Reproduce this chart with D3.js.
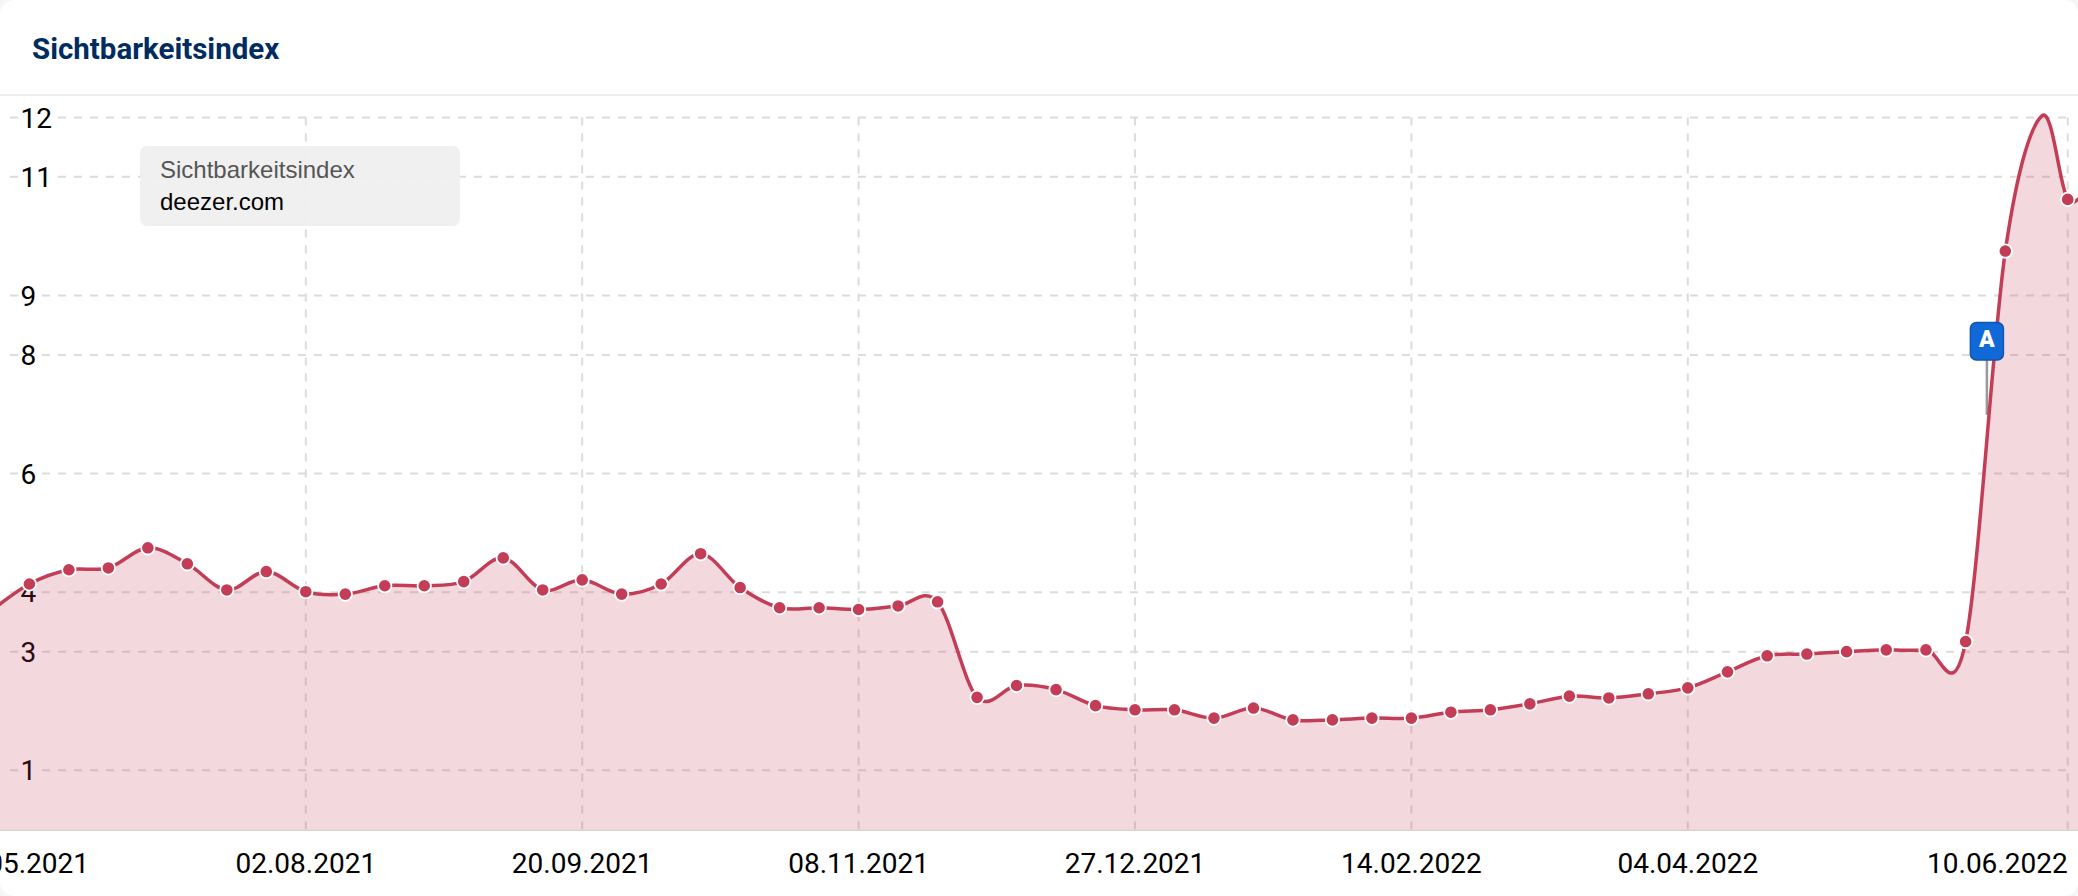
<!DOCTYPE html>
<html><head><meta charset="utf-8">
<script src="https://cdnjs.cloudflare.com/ajax/libs/d3/7.8.5/d3.min.js"></script>
<style>html,body{margin:0;padding:0;background:#f6f6f6;overflow:hidden}svg{display:block}</style>
</head><body><svg id="c" width="2078" height="896"></svg>
<script>
const dates = ["07.06.2021","14.06.2021","21.06.2021","28.06.2021","05.07.2021","12.07.2021","19.07.2021","26.07.2021","02.08.2021","09.08.2021","16.08.2021","23.08.2021","30.08.2021","06.09.2021","13.09.2021","20.09.2021","27.09.2021","04.10.2021","11.10.2021","18.10.2021","25.10.2021","01.11.2021","08.11.2021","15.11.2021","22.11.2021","29.11.2021","06.12.2021","13.12.2021","20.12.2021","27.12.2021","03.01.2022","10.01.2022","17.01.2022","24.01.2022","31.01.2022","07.02.2022","14.02.2022","21.02.2022","28.02.2022","07.03.2022","14.03.2022","21.03.2022","28.03.2022","04.04.2022","11.04.2022","18.04.2022","25.04.2022","02.05.2022","09.05.2022","16.05.2022","23.05.2022","30.05.2022","05.06.2022 12","10.06.2022","14.06.2022"];
const values = [3.67,4.14,4.38,4.41,4.75,4.48,4.04,4.35,4.01,3.97,4.11,4.11,4.18,4.58,4.04,4.21,3.97,4.14,4.65,4.08,3.74,3.74,3.71,3.77,3.84,2.23,2.43,2.36,2.09,2.02,2.02,1.88,2.05,1.85,1.85,1.88,1.88,1.98,2.02,2.12,2.25,2.22,2.29,2.39,2.66,2.93,2.96,3.00,3.03,3.03,3.17,9.75,12.03,10.62,10.9];
const undottedDates = ["05.06.2022 12"];
const yTicks = [1,3,4,6,8,9,11,12];
const xTicks = ["02.08.2021","20.09.2021","08.11.2021","27.12.2021","14.02.2022","04.04.2022","10.06.2022"];
const firstTickLabel = "31.05.2021";
const titleText = "Sichtbarkeitsindex";
const legendLines = ["Sichtbarkeitsindex","deezer.com"];
const eventLabel = "A";
const eventDate = "26.05.2022 18";
const eventValue = 8.0;

const parseDay = d3.timeParse("%d.%m.%Y"), parseHour = d3.timeParse("%d.%m.%Y %H");
const parse = s => parseDay(s) || parseHour(s);
const W = 2078, H = 896;
const x = d3.scaleTime().domain([parse("02.08.2021"), parse("04.04.2022"), parse("10.06.2022")]).range([305.8, 1687.8, 2067.7]);
const y = d3.scaleLinear().domain([0, 12]).range([829.7, 117.5]);
const pts = dates.map((d,i)=>({d:parse(d),s:d,v:values[i]}));
const svg = d3.select("#c");
const LINE = "#c33d57";

svg.append("clipPath").attr("id","card").append("rect").attr("width",W).attr("height",H).attr("rx",14);
const g = svg.append("g").attr("clip-path","url(#card)");
g.append("rect").attr("width",W).attr("height",H).attr("fill","#fff");

g.append("text").attr("x",32).attr("y",59).attr("font-family","Roboto").attr("font-weight",700).attr("font-size",29.5).attr("fill","#002c5f").text(titleText);
g.append("line").attr("x1",0).attr("x2",W).attr("y1",95).attr("y2",95).attr("stroke","#eeeeee").attr("stroke-width",2);

// grid
const grid = g.append("g").attr("fill","none").attr("stroke","#dcdcdc").attr("stroke-width",2).attr("stroke-dasharray","8 8");
grid.selectAll(".h").data(yTicks).join("line").attr("x1",10).attr("x2",x(parse("10.06.2022"))).attr("y1",d=>y(d)).attr("y2",d=>y(d));
grid.selectAll(".v").data(xTicks).join("line").attr("x1",d=>x(parse(d))).attr("x2",d=>x(parse(d))).attr("y1",y(12)).attr("y2",y(0));

// y labels
g.append("g").selectAll("text").data(yTicks).join("text")
 .attr("x",20.5).attr("y",d=>y(d)+10)
 .attr("font-family","Roboto").attr("font-size",28).attr("fill","#000")
 .attr("stroke","#fff").attr("stroke-width",8).attr("paint-order","stroke")
 .text(d=>d);

// legend
g.append("rect").attr("x",140).attr("y",146).attr("width",320).attr("height",80).attr("rx",7).attr("fill","#efefef").attr("fill-opacity",0.92);
g.append("g").selectAll("text").data(legendLines).join("text")
 .attr("x",160).attr("y",(d,i)=>i?210:178).attr("font-family","'Liberation Sans'").attr("font-size",24)
 .attr("fill",(d,i)=>i?"#000":"#555").text(d=>d);

// area + line
const curve = d3.curveCardinal.tension(0);
g.append("path").datum(pts).attr("fill",LINE).attr("fill-opacity",0.2)
 .attr("d",d3.area().x(d=>x(d.d)).y0(y(0)).y1(d=>y(d.v)).curve(curve));
g.append("line").attr("x1",0).attr("x2",W).attr("y1",y(0)+0.5).attr("y2",y(0)+0.5).attr("stroke","#d8d0d2").attr("stroke-width",1.5);

// event stem
const ex = x(parse(eventDate));
g.append("line").attr("x1",ex).attr("x2",ex).attr("y1",y(eventValue)+5).attr("y2",y(eventValue)+60).attr("stroke","#999").attr("stroke-width",2.5);

g.append("path").datum(pts).attr("fill","none").attr("stroke",LINE).attr("stroke-width",3.5)
 .attr("d",d3.line().x(d=>x(d.d)).y(d=>y(d.v)).curve(curve));
g.append("g").selectAll("circle").data(pts.filter(p=>!undottedDates.includes(p.s))).join("circle")
 .attr("cx",d=>x(d.d)).attr("cy",d=>y(d.v)).attr("r",6.7).attr("fill",LINE).attr("stroke","#fff").attr("stroke-width",1.8);

// event flag
const flag = g.append("g").attr("transform",`translate(${ex},${y(eventValue)+5})`);
flag.append("rect").attr("x",-16.5).attr("y",-37.5).attr("width",33).attr("height",37.5).attr("rx",6).attr("fill","#1169d8").attr("stroke","#0f55b0").attr("stroke-width",1.5);
flag.append("text").attr("text-anchor","middle").attr("y",-12.7).attr("font-family","Roboto").attr("font-weight",900).attr("font-size",23).attr("fill","#fff").text(eventLabel);

// x labels
const xl = g.append("g").attr("font-family","Roboto").attr("font-size",28).attr("fill","#000");
xl.append("text").attr("x",89).attr("y",873).attr("text-anchor","end").text(firstTickLabel);
xl.selectAll(".t").data(xTicks).join("text").attr("x",d=>x(parse(d))).attr("y",873)
 .attr("text-anchor",d=>d==="10.06.2022"?"end":"middle").text(d=>d);
</script></body></html>
